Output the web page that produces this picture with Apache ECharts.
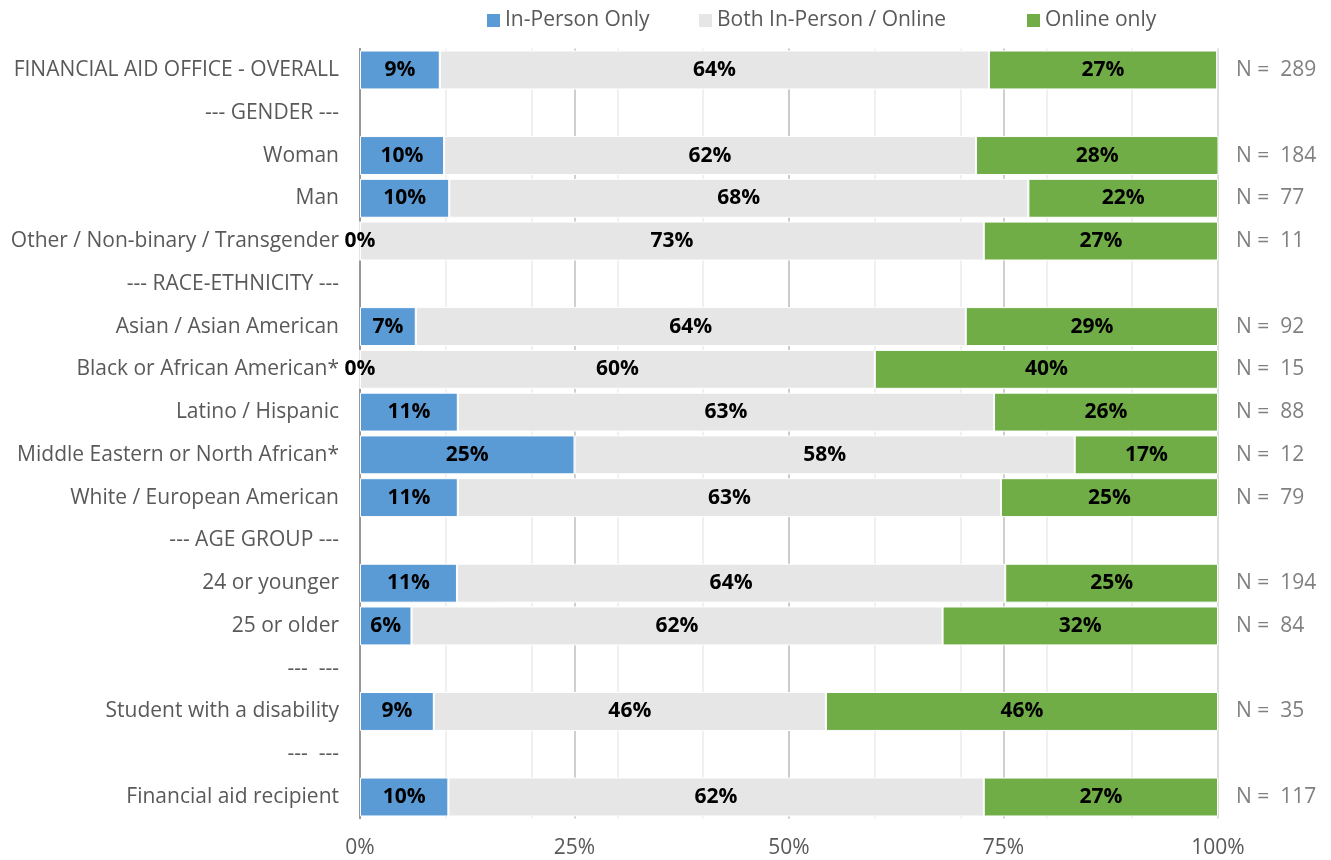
<!DOCTYPE html>
<html>
<head>
<meta charset="utf-8">
<script src="https://cdn.jsdelivr.net/npm/echarts@6/dist/echarts.min.js"></script>
<style>
html,body{margin:0;padding:0;background:#fff;}
#chart{width:1331px;height:860px;}
</style>
</head>
<body>
<div id="chart"></div>
<script>
const categories = [
  'FINANCIAL AID OFFICE - OVERALL',
  '--- GENDER ---',
  'Woman',
  'Man',
  'Other / Non-binary / Transgender',
  '--- RACE-ETHNICITY ---',
  'Asian / Asian American',
  'Black or African American*',
  'Latino / Hispanic',
  'Middle Eastern or North African*',
  'White / European American',
  '--- AGE GROUP ---',
  '24 or younger',
  '25 or older',
  '---  ---',
  'Student with a disability',
  '---  ---',
  'Financial aid recipient'
];
const inPersonOnly = [9.3, null, 9.8, 10.4, 0, null, 6.5, 0, 11.4, 25.0, 11.4, null, 11.3, 6.0, null, 8.6, null, 10.3];
const bothModes    = [64.0, null, 62.0, 67.5, 72.7, null, 64.1, 60.0, 62.5, 58.3, 63.3, null, 63.9, 61.9, null, 45.7, null, 62.4];
const onlineOnly   = [26.6, null, 28.3, 22.1, 27.3, null, 29.4, 40.0, 26.1, 16.7, 25.3, null, 24.8, 32.1, null, 45.7, null, 27.3];
const nLabels = ['N =  289', '', 'N =  184', 'N =  77', 'N =  11', '', 'N =  92', 'N =  15', 'N =  88', 'N =  12', 'N =  79', '', 'N =  194', 'N =  84', '', 'N =  35', '', 'N =  117'];
const seriesNames = ['In-Person Only', 'Both In-Person / Online', 'Online only'];
const xTicks = [0, 25, 50, 75, 100];

const FONT = "'Open Sans', 'Noto Sans', sans-serif";
const colors = ['#5b9bd5', '#e6e6e6', '#70ad47'];

const chart = echarts.init(document.getElementById('chart'), null, {renderer: 'canvas'});

function mkSeries(name, data, color) {
  return {
    name: name,
    type: 'bar',
    stack: 'total',
    xAxisIndex: 1,
    yAxisIndex: 0,
    data: data,
    barCategoryGap: '9%',
    itemStyle: {color: color, borderColor: '#ffffff', borderWidth: 1},
    label: {
      show: true,
      position: 'inside',
      color: '#000000',
      fontFamily: FONT,
      fontWeight: 'bold',
      fontSize: 21,
      formatter: p => (p.value == null ? '' : Math.round(p.value) + '%')
    },
    emphasis: {disabled: true}
  };
}

const legendBase = {
  top: 5,
  icon: 'rect',
  itemWidth: 15,
  itemHeight: 15,
  itemGap: 4,
  textStyle: {fontFamily: FONT, fontSize: 21, color: '#595959', padding: [0, 0, 0, -1]},
  selectedMode: false
};

chart.setOption({
  animation: false,
  color: colors,
  grid: {left: 360, right: 113, top: 48.6, bottom: 41.6, containLabel: false},
  legend: [
    Object.assign({}, legendBase, {left: 480, data: [seriesNames[0]]}),
    Object.assign({}, legendBase, {left: 692, data: [seriesNames[1]]}),
    Object.assign({}, legendBase, {left: 1020, data: [seriesNames[2]]})
  ],
  xAxis: [
    {
      type: 'value', min: 0, max: 100, interval: 10, position: 'bottom',
      axisLine: {show: false}, axisTick: {show: false}, axisLabel: {show: false},
      splitLine: {show: true, lineStyle: {color: '#ebebeb', width: 1.5}}
    },
    {
      type: 'value', min: 0, max: 100, interval: 25, position: 'bottom',
      axisLine: {show: false}, axisTick: {show: false},
      axisLabel: {
        fontFamily: FONT, fontSize: 21, color: '#595959', margin: 19,
        formatter: v => (xTicks.indexOf(v) >= 0 ? v + '%' : '')
      },
      splitLine: {show: true, lineStyle: {color: ['#bfbfbf', '#bfbfbf', '#bfbfbf', '#bfbfbf', '#d9d9d9'], width: 1.5}}
    }
  ],
  yAxis: [
    {
      type: 'category', inverse: true, data: categories,
      axisLine: {show: true, lineStyle: {color: '#868686', width: 1.5}},
      axisTick: {show: false},
      axisLabel: {fontFamily: FONT, fontSize: 21, color: '#595959', margin: 21}
    },
    {
      type: 'category', inverse: true, data: nLabels, position: 'right',
      axisLine: {show: false}, axisTick: {show: false},
      axisLabel: {fontFamily: FONT, fontSize: 21, color: '#808080', margin: 18, align: 'left'}
    }
  ],
  series: [
    mkSeries(seriesNames[0], inPersonOnly, colors[0]),
    mkSeries(seriesNames[1], bothModes, colors[1]),
    mkSeries(seriesNames[2], onlineOnly, colors[2])
  ]
});
</script>
</body>
</html>
